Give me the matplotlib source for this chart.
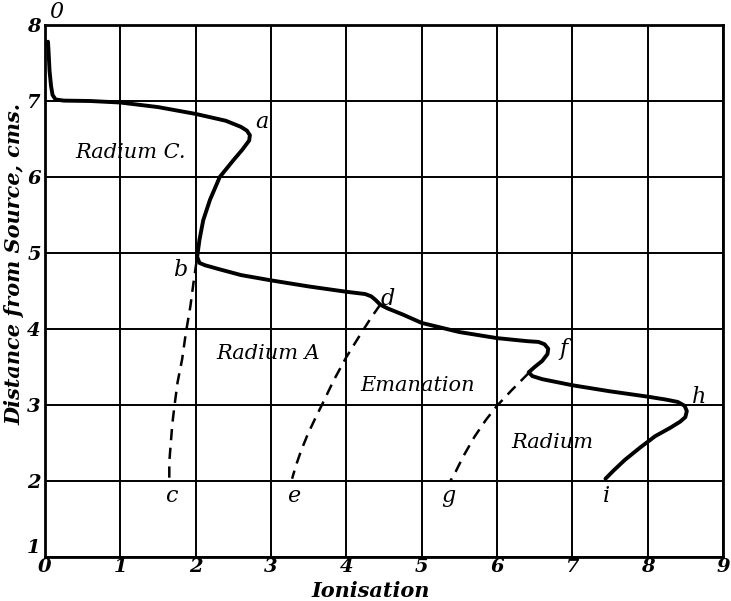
import matplotlib
matplotlib.use("Agg")
import matplotlib.pyplot as plt

# Main solid ionisation curve (ionisation, distance)
main_x = [0.04, 0.05, 0.06, 0.08, 0.10, 0.14, 0.25, 0.6, 1.0, 1.5, 2.0, 2.4, 2.6, 2.68, 2.72, 2.71,
          2.62, 2.50, 2.32, 2.19, 2.10, 2.05, 2.02, 2.05, 2.12, 2.3, 2.6, 3.0, 3.5, 4.0, 4.25, 4.33,
          4.39, 4.45, 4.55, 4.75, 5.0, 5.5, 6.0, 6.4, 6.55, 6.63, 6.68, 6.67, 6.60, 6.50, 6.42, 6.47,
          6.6, 7.0, 7.5, 8.0, 8.25, 8.4, 8.49, 8.52, 8.50, 8.43, 8.3, 8.1, 7.9, 7.7, 7.55, 7.44]
main_y = [7.78, 7.6, 7.4, 7.2, 7.08, 7.02, 7.005, 7.0, 6.98, 6.92, 6.83, 6.74, 6.66, 6.61, 6.55, 6.48,
          6.36, 6.22, 6.0, 5.70, 5.43, 5.17, 4.95, 4.87, 4.84, 4.79, 4.71, 4.64, 4.56, 4.49, 4.46, 4.43,
          4.38, 4.32, 4.27, 4.19, 4.08, 3.96, 3.88, 3.84, 3.83, 3.80, 3.74, 3.67, 3.58, 3.50, 3.43, 3.38,
          3.34, 3.26, 3.18, 3.11, 3.07, 3.04, 2.99, 2.92, 2.84, 2.78, 2.70, 2.59, 2.44, 2.28, 2.14, 2.03]

# Dashed curves
bc_x = [2.01, 1.97, 1.93, 1.87, 1.82, 1.76, 1.72, 1.69, 1.67, 1.65, 1.65]
bc_y = [4.88, 4.6, 4.3, 3.95, 3.6, 3.3, 3.0, 2.75, 2.5, 2.25, 2.03]
de_x = [4.45, 4.33, 4.2, 4.0, 3.83, 3.7, 3.6, 3.49, 3.4, 3.33, 3.28]
de_y = [4.32, 4.15, 3.95, 3.63, 3.32, 3.05, 2.85, 2.62, 2.4, 2.2, 2.03]
fg_x = [6.42, 6.2, 6.0, 5.85, 5.7, 5.55, 5.45, 5.38]
fg_y = [3.42, 3.2, 2.99, 2.8, 2.58, 2.32, 2.12, 2.0]

point_labels = ["0", "a", "b", "c", "d", "e", "f", "g", "h", "i"]
point_lx = [0.15, 2.88, 1.8, 1.68, 4.55, 3.3, 6.88, 5.35, 8.68, 7.45]
point_ly = [8.17, 6.72, 4.78, 1.8, 4.4, 1.8, 3.74, 1.8, 3.1, 1.8]

region_labels = ["Radium C.", "Radium A", "Emanation", "Radium"]
region_x = [1.13, 2.96, 4.94, 6.73]
region_y = [6.32, 3.68, 3.26, 2.51]

x_ticks = [0, 1, 2, 3, 4, 5, 6, 7, 8, 9]
y_ticks = [1, 2, 3, 4, 5, 6, 7, 8]

plt.rcParams['font.family'] = ['DejaVu Serif']

fig = plt.figure(figsize=(7.31, 6.01), dpi=100)
ax = fig.add_axes([45/731, 1 - 557/601, (723 - 45)/731, (557 - 25)/601])
ax.set_xlim(0, 9)
ax.set_ylim(1, 8)
ax.set_xticks(x_ticks)
ax.set_yticks(y_ticks)
ax.grid(True, color='black', linewidth=1.4)
ax.set_axisbelow(True)
for s in ax.spines.values():
    s.set_linewidth(2.0)
ax.tick_params(length=0)
ax.tick_params(axis='x', pad=1)
ax.tick_params(axis='y', pad=3)
for lab in ax.get_xticklabels() + ax.get_yticklabels():
    lab.set_fontstyle('italic')
    lab.set_fontweight('bold')
    lab.set_fontsize(14)
ax.get_yticklabels()[0].set_va('bottom')

ax.plot(main_x, main_y, color='black', linewidth=2.8, solid_capstyle='round',
        solid_joinstyle='round', zorder=3)
for xs, ys in [(bc_x, bc_y), (de_x, de_y), (fg_x, fg_y)]:
    ax.plot(xs, ys, color='black', linewidth=1.8, linestyle=(0, (4.5, 3)), zorder=3)

for t, x, y in zip(point_labels, point_lx, point_ly):
    ax.text(x, y, t, fontsize=16, fontstyle='italic', ha='center', va='center',
            clip_on=False, zorder=4)
for t, x, y in zip(region_labels, region_x, region_y):
    ax.text(x, y, t, fontsize=15, fontstyle='italic', ha='center', va='center', zorder=4)

ax.set_xlabel("Ionisation", fontsize=15, fontstyle='italic', fontweight='bold')
ax.set_ylabel("Distance from Source, cms.", fontsize=15, fontstyle='italic', fontweight='bold')
ax.xaxis.label.set_va('center')
ax.yaxis.label.set_va('center')
ax.xaxis.set_label_coords(0.48, -0.064)
ax.yaxis.set_label_coords(-0.045, 0.55)

fig.savefig("out.png", dpi=100, facecolor='white')
